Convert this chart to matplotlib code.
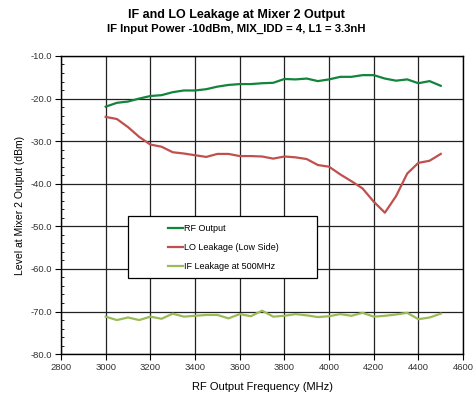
import matplotlib.pyplot as plt
from matplotlib.patches import Rectangle
from matplotlib.ticker import MultipleLocator, FormatStrFormatter

# Frequenzachse (MHz)
freq = [3000, 3050, 3100, 3150, 3200, 3250, 3300, 3350, 3400, 3450, 3500,
        3550, 3600, 3650, 3700, 3750, 3800, 3850, 3900, 3950, 4000,
        4050, 4100, 4150, 4200, 4250, 4300, 4350, 4400, 4450, 4500]

# Pegel am Ausgang Mixer 2 (dBm)
rf_output = [-21.9, -21.0, -20.7, -20.0, -19.4, -19.2, -18.5, -18.1, -18.1, -17.8, -17.2,
             -16.8, -16.6, -16.6, -16.4, -16.3, -15.4, -15.5, -15.3, -15.9, -15.5,
             -14.9, -14.9, -14.5, -14.5, -15.3, -15.8, -15.5, -16.4, -15.9, -17.0]
lo_leakage = [-24.3, -24.8, -26.7, -29.0, -30.8, -31.3, -32.6, -32.9, -33.3, -33.7, -33.0,
              -33.0, -33.5, -33.5, -33.6, -34.1, -33.6, -33.8, -34.2, -35.6, -36.0,
              -37.8, -39.4, -41.1, -44.2, -46.8, -42.9, -37.6, -35.1, -34.6, -33.0]
if_leakage = [-71.2, -72.0, -71.4, -72.0, -71.2, -71.7, -70.5, -71.2, -71.0, -70.8, -70.8,
              -71.6, -70.6, -71.1, -69.8, -71.2, -71.0, -70.6, -70.9, -71.3, -71.1,
              -70.6, -71.0, -70.3, -71.2, -71.0, -70.7, -70.3, -71.8, -71.4, -70.5]

series_labels = ["RF Output", "LO Leakage (Low Side)", "IF Leakage at 500MHz"]

plt.rcParams["font.family"] = ["Liberation Sans", "DejaVu Sans"]

fig = plt.figure(figsize=(4.73, 3.97), dpi=100)
ax = fig.add_axes([0.129, 0.108, 0.850, 0.751])

ax.plot(freq, rf_output, color="#12843c", lw=1.6, label=series_labels[0])
ax.plot(freq, lo_leakage, color="#c0504d", lw=1.6, label=series_labels[1])
ax.plot(freq, if_leakage, color="#9bbb59", lw=1.6, label=series_labels[2])

ax.set_xlim(2800, 4600)
ax.set_ylim(-80, -10)
ax.xaxis.set_major_locator(MultipleLocator(200))
ax.yaxis.set_major_locator(MultipleLocator(10))
ax.yaxis.set_minor_locator(MultipleLocator(2))
ax.yaxis.set_major_formatter(FormatStrFormatter("%.1f"))

ax.grid(True, which="major", color="#222222", lw=0.9)
ax.set_axisbelow(True)
for s in ax.spines.values():
    s.set_color("black")
    s.set_linewidth(1.0)

ax.tick_params(axis="both", which="major", labelsize=6.8, length=4, color="black",
               labelcolor="#333333", pad=2.5)
ax.tick_params(axis="y", which="minor", direction="in", length=2.5)

ax.set_xlabel("RF Output Frequency (MHz)", fontsize=8, labelpad=7)
ax.set_ylabel("Level at Mixer 2 Output (dBm)", fontsize=7.5, labelpad=4)

fig.text(0.5, 0.963, "IF and LO Leakage at Mixer 2 Output", ha="center", va="center",
         fontsize=9, fontweight="bold")
fig.text(0.5, 0.926, "IF Input Power -10dBm, MIX_IDD = 4, L1 = 3.3nH", ha="center",
         va="center", fontsize=8.2, fontweight="bold")

# Legendenkasten mit fester Breite, Einträge eingerückt
box = Rectangle((0.1667, 0.255), 0.4705, 0.208, transform=ax.transAxes,
                facecolor="white", edgecolor="black", lw=0.9, zorder=5)
ax.add_patch(box)
leg = ax.legend(loc="upper left", bbox_to_anchor=(0.267, 0.435), fontsize=6.5,
                frameon=False, handlelength=1.6, handletextpad=0.1,
                labelspacing=1.1, borderpad=0, borderaxespad=0)
leg.set_zorder(6)

fig.savefig("out.png", dpi=100)
